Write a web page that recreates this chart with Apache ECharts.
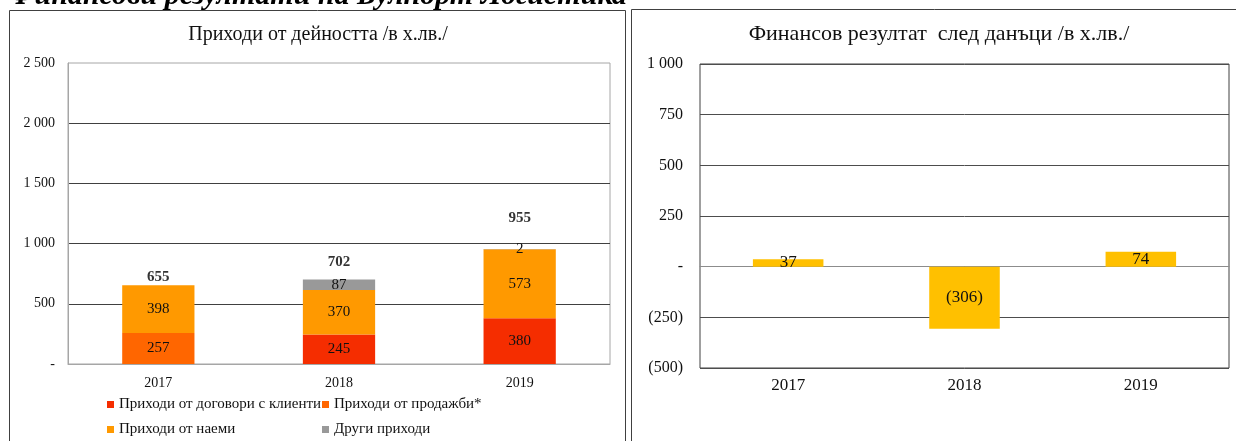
<!DOCTYPE html>
<html>
<head>
<meta charset="utf-8">
<script src="https://cdn.jsdelivr.net/npm/echarts@6/dist/echarts.min.js"></script>
<style>
  html, body { margin: 0; padding: 0; background: #fff; }
  #main { width: 1236px; height: 441px; }
</style>
</head>
<body>
<div id="main"></div>
<script>
// categories and values
const years = ['2017', '2018', '2019'];
const contractIncome = [null, 245, 380];   // Приходи от договори с клиенти
const salesIncome = [257, null, null];     // Приходи от продажби*
const rentIncome = [398, 370, 573];        // Приходи от наеми
const otherIncome = [null, 87, 2];         // Други приходи
const totalIncome = [655, 702, 955];
const netResult = [37, -306, 74];

const seriesNames = [
    'Приходи от договори с клиенти',
    'Приходи от продажби*',
    'Приходи от наеми',
    'Други приходи'
];
const seriesColors = ['#F52D00', '#FF6600', '#FF9900', '#999999'];

const serif = 'Liberation Serif, Times New Roman, serif';

function fmtNum(v) {
    if (v === 0) return '-';
    let s = Math.abs(v).toString().replace(/\B(?=(\d{3})+(?!\d))/g, ' ');
    return v < 0 ? '(' + s + ')' : s;
}

function MakeChartOptions() {
    let segLabel = {
        show: true,
        position: 'inside',
        color: '#111',
        fontFamily: serif,
        fontSize: 15,
        formatter: (p) => fmtNum(p.value)
    };
    let stackData = [contractIncome, salesIncome, rentIncome, otherIncome];
    let stackSeries = stackData.map((arr, i) => ({
        name: seriesNames[i],
        type: 'bar',
        stack: 'income',
        xAxisIndex: 0,
        yAxisIndex: 0,
        barWidth: '40%',
        data: arr,
        itemStyle: {color: seriesColors[i]},
        label: segLabel
    }));

    // total labels sit at different heights in the original
    let totalLift = [1, 10, 23];
    let legendText = {fontFamily: serif, fontSize: 15, color: '#111', lineHeight: 15};

    let init_parameters = {
        animation: false,
        textStyle: {fontFamily: serif},
        graphic: [
            {
                type: 'text', left: 9, top: -19,
                style: {
                    text: 'Финансови резултати на Булпорт Логистика',
                    font: 'italic bold 30px ' + serif,
                    fill: '#000'
                }
            },
            {
                type: 'rect', shape: {x: 9.5, y: 10.5, width: 616, height: 450},
                style: {fill: 'none', stroke: '#404040', lineWidth: 1}, z: -1
            },
            {
                type: 'rect', shape: {x: 631.5, y: 9.5, width: 620, height: 450},
                style: {fill: 'none', stroke: '#404040', lineWidth: 1}, z: -1
            },
            {
                type: 'text', x: 318, y: 35,
                style: {
                    text: 'Приходи от дейността /в х.лв./',
                    font: '20px ' + serif, fill: '#111',
                    textAlign: 'center', textVerticalAlign: 'middle'
                }
            },
            {
                type: 'text', x: 939, y: 34,
                style: {
                    text: 'Финансов резултат  след данъци /в х.лв./',
                    font: '22px ' + serif, fill: '#111',
                    textAlign: 'center', textVerticalAlign: 'middle'
                }
            }
        ],
        legend: [
            {
                data: [seriesNames[0], seriesNames[2]],
                orient: 'vertical',
                left: 107, top: 397,
                itemWidth: 7, itemHeight: 7, itemGap: 10,
                icon: 'rect',
                textStyle: legendText,
                padding: 0
            },
            {
                data: [seriesNames[1], seriesNames[3]],
                orient: 'vertical',
                left: 322, top: 397,
                itemWidth: 7, itemHeight: 7, itemGap: 10,
                icon: 'rect',
                textStyle: legendText,
                padding: 0
            }
        ],
        grid: [
            {left: 68, right: 626, top: 63, bottom: 77, show: true, borderColor: '#a6a6a6', borderWidth: 1},
            {left: 700, right: 7, top: 64, bottom: 73, show: true, borderColor: '#404040', borderWidth: 1}
        ],
        xAxis: [
            {
                type: 'category', gridIndex: 0, data: years,
                axisTick: {show: false},
                axisLine: {lineStyle: {color: '#a6a6a6'}},
                axisLabel: {color: '#111', fontSize: 14, fontFamily: serif, margin: 12}
            },
            {
                type: 'category', gridIndex: 1, data: years,
                axisTick: {show: false},
                axisLine: {onZero: true, lineStyle: {color: '#8c8c8c'}},
                axisLabel: {color: '#111', fontSize: 17, fontFamily: serif, margin: 9},
                z: 1
            }
        ],
        yAxis: [
            {
                type: 'value', gridIndex: 0, min: 0, max: 2500, interval: 500,
                axisLine: {show: true, lineStyle: {color: '#a6a6a6'}},
                axisTick: {show: false},
                splitLine: {show: true, showMaxLine: false, showMinLine: false, lineStyle: {color: '#404040'}},
                axisLabel: {color: '#111', fontSize: 14, fontFamily: serif, margin: 13, formatter: fmtNum}
            },
            {
                type: 'value', gridIndex: 1, min: -500, max: 1000, interval: 250,
                axisLine: {show: false},
                axisTick: {show: false},
                splitLine: {show: true, lineStyle: {color: '#4d4d4d'}},
                axisLabel: {color: '#111', fontSize: 16, fontFamily: serif, margin: 17, formatter: fmtNum}
            }
        ],
        series: stackSeries.concat([
            {
                name: 'Общо',
                type: 'scatter',
                xAxisIndex: 0, yAxisIndex: 0,
                symbolSize: 0,
                data: totalIncome.map((v, i) => ({
                    value: v,
                    label: {distance: totalLift[i]}
                })),
                label: {
                    show: true, position: 'top',
                    color: '#000', fontWeight: 'bold', fontSize: 15, fontFamily: serif,
                    formatter: (p) => fmtNum(p.value)
                },
                z: 5
            },
            {
                name: 'Финансов резултат',
                type: 'bar',
                xAxisIndex: 1, yAxisIndex: 1,
                barWidth: '40%',
                data: netResult,
                itemStyle: {color: '#FFC000'},
                label: {
                    show: true, position: 'inside',
                    color: '#111', fontSize: 17, fontFamily: serif,
                    formatter: (p) => fmtNum(p.value)
                },
                z: 3
            }
        ])
    };
    return init_parameters;
}

try {
    let chart = echarts.init(document.getElementById('main'));
    chart.setOption(MakeChartOptions());
} catch (err) {
    console.log(`Error drawing charts: ${err}`);
}
</script>
</body>
</html>
